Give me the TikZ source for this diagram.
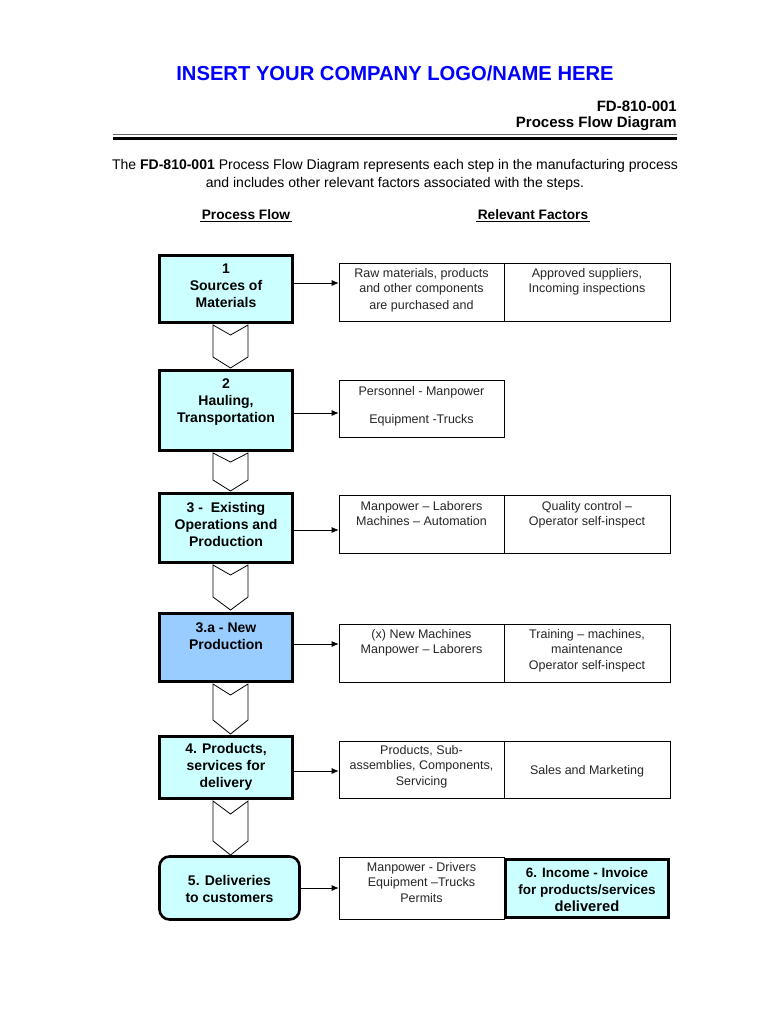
\documentclass[tikz,border=0pt]{standalone}
\usepackage{fontspec}
\setmainfont{Liberation Sans}
\usetikzlibrary{arrows.meta}
\definecolor{lcyan}{HTML}{CCFFFF}
\definecolor{lblue}{HTML}{99CCFF}
\definecolor{titleblue}{HTML}{0000FF}
\begin{document}
\begin{tikzpicture}[x=1pt,y=-1pt,
 stepbox/.style={draw, line width=2.6pt, fill=lcyan, minimum width=133pt, inner sep=0pt},
 factbox/.style={draw, line width=0.7pt, inner sep=0pt, minimum height=57pt},
 steptext/.style={font=\fontsize{14}{17}\selectfont\bfseries, align=center, inner sep=0pt},
 facttext/.style={font=\fontsize{12.5}{15.5}\selectfont, align=center, text=black!85, inner sep=0pt, anchor=north},
 chev/.style={draw, line width=0.8pt, fill=white},
 conn/.style={-{Latex[length=7pt,width=6pt]}, line width=0.7pt}]
\useasboundingbox[fill=white] (0,0) rectangle (768,1024);

% header
\node[font=\fontsize{20.2}{22}\selectfont\bfseries, text=titleblue] (title) at (395,73) {INSERT YOUR COMPANY LOGO/NAME HERE};
\node[font=\fontsize{15}{16}\selectfont\bfseries, anchor=east, inner sep=0pt] (doc) at (677,106) {FD-810-001};
\node[font=\fontsize{15}{16}\selectfont\bfseries, anchor=east, inner sep=0pt] (pfd) at (677,124) {Process Flow Diagram};
\draw[line width=0.8pt, black!60] (113,134.5) -- (677,134.5);
\draw[line width=3.5pt] (113,138.5) -- (677,138.5);
\node[font=\fontsize{14}{18}\selectfont, align=center, inner sep=0pt] (intro) at (395,175)
 {The \textbf{FD-810-001} Process Flow Diagram represents each step in the manufacturing process\\
 and includes other relevant factors associated with the steps.};
\node[font=\fontsize{13.7}{15}\selectfont\bfseries, inner sep=1.5pt] (hpf) at (246,215) {Process Flow};
\node[font=\fontsize{13.7}{15}\selectfont\bfseries, inner sep=1.5pt] (hrf) at (533,215) {Relevant Factors};
\draw[line width=0.8pt] (hpf.south west) -- (hpf.south east);
\draw[line width=0.8pt] (hrf.south west) -- (hrf.south east);

% step boxes
\node[stepbox, minimum height=67pt] (s1) at (226,289) {};
\node[stepbox, minimum height=80pt] (s2) at (226,410.5) {};
\node[stepbox, minimum height=69pt] (s3) at (226,528) {};
\node[stepbox, fill=lblue, minimum height=68pt] (s3a) at (226,647.5) {};
\node[stepbox, minimum height=62pt] (s4) at (226,767.5) {};
\node[stepbox, minimum width=140pt, minimum height=63pt, rounded corners=10pt] (s5) at (229.5,888) {};

\node[steptext] (t1) at (226,286) {1\\Sources of\\Materials};
\node[steptext] (t2) at (226,402) {2\\Hauling,\\Transportation};
\node[steptext] (t3) at (226,524) {3 -\ \ Existing\\Operations and\\Production};
\node[steptext] (t3a) at (226,636.5) {3.a - New\\Production};
\node[steptext] (t4) at (226,767) {4. Products,\\services for\\delivery};
\node[steptext] (t5) at (229.5,888.5) {5. Deliveries\\to customers};

% chevrons
\draw[chev] (213,325) -- (230.5,335) -- (248,325) -- (248,357) -- (230.5,368) -- (213,357) -- cycle;
\draw[chev] (213,453) -- (230.5,462) -- (248,453) -- (248,480) -- (230.5,491) -- (213,480) -- cycle;
\draw[chev] (213,565) -- (230.5,575) -- (248,565) -- (248,597) -- (230.5,610) -- (213,597) -- cycle;
\draw[chev] (213,684) -- (230.5,695) -- (248,684) -- (248,720) -- (230.5,734) -- (213,720) -- cycle;
\draw[chev] (213,801) -- (230.5,814) -- (248,801) -- (248,841) -- (230.5,855) -- (213,841) -- cycle;

% factor boxes
\node[factbox, minimum width=165pt, minimum height=58pt] (f1a) at (421.5,292) {};
\node[factbox, minimum width=166pt, minimum height=58pt] (f1b) at (587,292) {};
\node[factbox, minimum width=165pt] (f2) at (421.5,408.5) {};
\node[factbox, minimum width=165pt, minimum height=58pt] (f3a) at (421.5,524) {};
\node[factbox, minimum width=166pt, minimum height=58pt] (f3b) at (587,524) {};
\node[factbox, minimum width=165pt, minimum height=58pt] (fna) at (421.5,653) {};
\node[factbox, minimum width=166pt, minimum height=58pt] (fnb) at (587,653) {};
\node[factbox, minimum width=165pt] (f4a) at (421.5,769.5) {};
\node[factbox, minimum width=166pt] (f4b) at (587,769.5) {};
\node[factbox, minimum width=165pt, minimum height=62pt] (f5) at (421.5,888) {};
\node[draw, line width=2.6pt, fill=lcyan, inner sep=0pt, minimum width=163pt, minimum height=58pt] (f6) at (587,888.5) {};

\node[facttext] (x1a) at (421.5,268) {Raw materials, products\\and other components\\[1pt]are purchased and};
\node[facttext] (x1b) at (587,268) {Approved suppliers,\\Incoming inspections};
\node[facttext] (x2) at (421.5,386) {Personnel - Manpower\\[13pt]Equipment -Trucks};
\node[facttext] (x3a) at (421.5,501) {Manpower -- Laborers\\Machines -- Automation};
\node[facttext] (x3b) at (587,501) {Quality control --\\Operator self-inspect};
\node[facttext] (xna) at (421.5,629) {(x) New Machines\\Manpower -- Laborers};
\node[facttext] (xnb) at (587,629) {Training -- machines,\\maintenance\\Operator self-inspect};
\node[facttext] (x4a) at (421.5,745) {Products, Sub-\\assemblies, Components,\\Servicing};
\node[facttext, anchor=center] (x4b) at (587,771) {Sales and Marketing};
\node[facttext] (x5) at (421.5,862) {Manpower - Drivers\\Equipment --Trucks\\Permits};
\node[font=\fontsize{13.5}{17}\selectfont\bfseries, align=center, inner sep=0pt] (x6) at (587,890)
 {6. Income - Invoice\\for products/services\\{\fontsize{14.7}{17}\selectfont delivered}};

% connectors
\draw[conn] ([yshift=6pt]s1.east) -- ([yshift=6pt]s1.east -| f1a.west);
\draw[conn] ([yshift=-2.5pt]s2.east) -- ([yshift=-2.5pt]s2.east -| f2.west);
\draw[conn] ([yshift=-2pt]s3.east) -- ([yshift=-2pt]s3.east -| f3a.west);
\draw[conn] ([yshift=3.5pt]s3a.east) -- ([yshift=3.5pt]s3a.east -| fna.west);
\draw[conn] ([yshift=-3.5pt]s4.east) -- ([yshift=-3.5pt]s4.east -| f4a.west);
\draw[conn] (s5.east) -- (s5.east -| f5.west);
\end{tikzpicture}
\end{document}
